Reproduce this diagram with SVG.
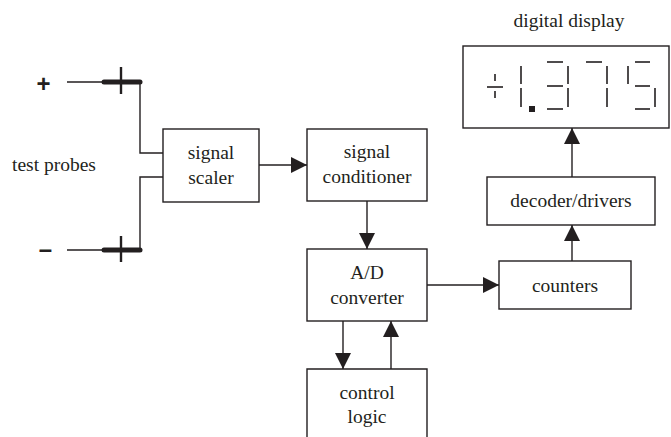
<svg xmlns="http://www.w3.org/2000/svg" width="671" height="437" viewBox="0 0 671 437">
<defs>
<style>
.box{fill:#fff;stroke:#231f20;stroke-width:1.4}
.ln{fill:none;stroke:#231f20;stroke-width:1.4}
.t{font-family:"Liberation Serif","Times New Roman",serif;font-size:19.5px;fill:#231f20;text-anchor:middle}
.sg{stroke:#231f20;stroke-width:1.6;fill:none}
.thick{stroke:#231f20;stroke-width:5;stroke-linecap:round;fill:none}
.tick{stroke:#231f20;stroke-width:2.4;fill:none}
.sign{font-family:"Liberation Sans",Arial,sans-serif;font-weight:bold;font-size:24px;fill:#231f20;text-anchor:middle}
</style>
<marker id="ah" markerUnits="userSpaceOnUse" markerWidth="17" markerHeight="17" refX="16" refY="8" orient="auto">
<path d="M0,0 L16,8 L0,16 Z" fill="#231f20"/>
</marker>
</defs>
<rect width="671" height="437" fill="#fff"/>

<g id="probes">
<text class="sign" x="43.5" y="92">+</text>
<text class="sign" x="45.5" y="257">–</text>
<text class="t" x="12" y="171" style="text-anchor:start">test probes</text>
<polyline class="ln" points="67,82 140,82 140,153 163,153"/>
<polyline class="ln" points="67,250 140,250 140,177 163,177"/>
<line class="thick" x1="104" y1="82" x2="140" y2="82"/>
<line class="thick" x1="104" y1="250" x2="140" y2="250"/>
<line class="tick" x1="121" y1="67" x2="121" y2="94"/>
<line class="tick" x1="121" y1="236" x2="121" y2="262"/>
</g>

<g id="scaler">
<rect class="box" x="163" y="129" width="96" height="73"/>
<text class="t" x="211" y="159">signal</text>
<text class="t" x="211" y="184">scaler</text>
</g>

<g id="conditioner">
<rect class="box" x="307" y="129" width="120" height="72"/>
<text class="t" x="367" y="158">signal</text>
<text class="t" x="367" y="183">conditioner</text>
</g>

<g id="adc">
<rect class="box" x="307" y="249" width="120" height="72"/>
<text class="t" x="367" y="279">A/D</text>
<text class="t" x="367" y="304">converter</text>
</g>

<g id="control">
<path class="box" d="M307,440 V369 H427 V440"/>
<text class="t" x="367" y="399">control</text>
<text class="t" x="367" y="423">logic</text>
</g>

<g id="counters">
<rect class="box" x="499" y="261" width="132" height="48"/>
<text class="t" x="565" y="292">counters</text>
</g>

<g id="decoder">
<rect class="box" x="487" y="177" width="168" height="48"/>
<text class="t" x="571" y="207">decoder/drivers</text>
</g>

<g id="display">
<text class="t" x="569" y="27">digital display</text>
<rect class="box" x="463" y="46" width="206" height="82"/>
<g class="sg">
<line x1="487" y1="87" x2="503" y2="87"/>
<line x1="495" y1="74" x2="495" y2="81"/>
<line x1="495" y1="91" x2="495" y2="98"/>
<line x1="521" y1="66" x2="521" y2="84"/>
<line x1="521" y1="88" x2="521" y2="107"/>
<line x1="547" y1="62" x2="563" y2="62"/>
<line x1="547" y1="86" x2="563" y2="86"/>
<line x1="547" y1="109" x2="563" y2="109"/>
<line x1="568" y1="66" x2="568" y2="84"/>
<line x1="568" y1="88" x2="568" y2="107"/>
<line x1="586" y1="62" x2="602" y2="62"/>
<line x1="607" y1="66" x2="607" y2="84"/>
<line x1="607" y1="88" x2="607" y2="107"/>
<line x1="635" y1="62" x2="650" y2="62"/>
<line x1="628" y1="66" x2="628" y2="84"/>
<line x1="635" y1="86" x2="650" y2="86"/>
<line x1="655" y1="88" x2="655" y2="107"/>
<line x1="635" y1="109" x2="650" y2="109"/>
</g>
<rect x="529" y="106" width="6" height="6" fill="#231f20"/>
</g>

<g id="connectors">
<line class="ln" x1="259" y1="165" x2="307" y2="165" marker-end="url(#ah)"/>
<line class="ln" x1="367" y1="201" x2="367" y2="249" marker-end="url(#ah)"/>
<line class="ln" x1="427" y1="285" x2="499" y2="285" marker-end="url(#ah)"/>
<line class="ln" x1="572" y1="261" x2="572" y2="225" marker-end="url(#ah)"/>
<line class="ln" x1="572" y1="177" x2="572" y2="128" marker-end="url(#ah)"/>
<line class="ln" x1="343" y1="321" x2="343" y2="369" marker-end="url(#ah)"/>
<line class="ln" x1="391" y1="369" x2="391" y2="321" marker-end="url(#ah)"/>
</g>
</svg>
